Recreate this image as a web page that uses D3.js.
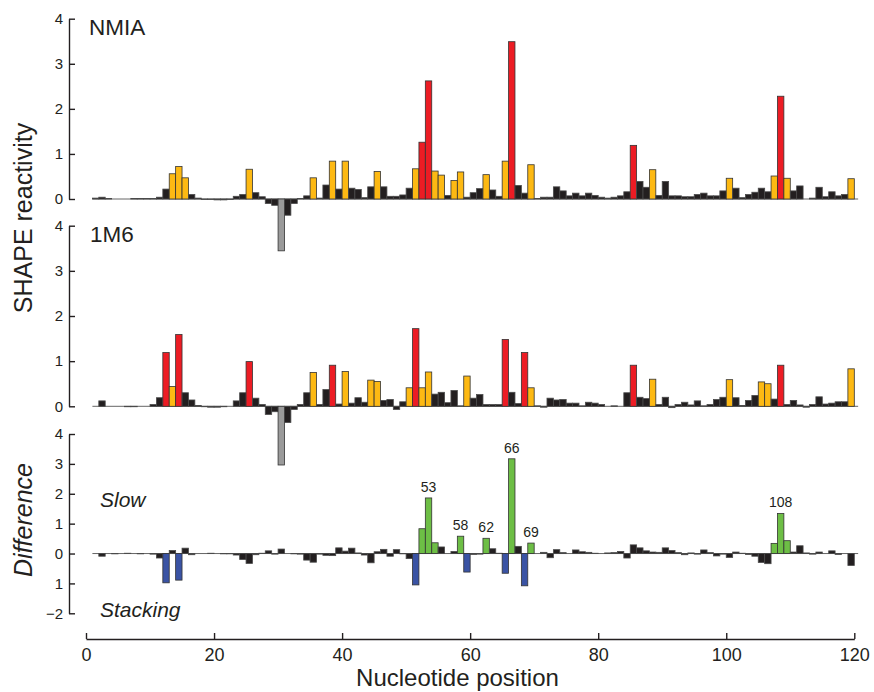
<!DOCTYPE html>
<html><head><meta charset="utf-8">
<script src="https://cdn.jsdelivr.net/npm/d3@7"></script>
<style>body{margin:0;background:#fff}svg{display:block}text{font-family:"Liberation Sans",Arial,sans-serif;fill:#231f20}</style>
</head><body>
<script>
// Nucleotide positions 1..119
const positions = d3.range(1, 120);
const nmia = [0.02,0.04,0.01,0.0,0.0,0.0,0.01,0.01,0.01,0.01,
0.04,0.22,0.56,0.72,0.47,0.1,0.02,-0.01,-0.01,-0.02,
-0.02,-0.01,0.06,0.1,0.66,0.14,0.05,-0.1,-0.14,-1.15,
-0.36,-0.1,0.01,0.07,0.47,0.02,0.31,0.84,0.22,0.84,
0.24,0.21,0.03,0.27,0.61,0.27,0.06,0.06,0.09,0.24,
0.67,1.26,2.62,0.62,0.53,0.08,0.41,0.6,0.04,0.14,
0.23,0.54,0.2,0.06,0.84,3.49,0.3,0.13,0.76,0.01,
0.04,0.04,0.27,0.18,0.07,0.13,0.07,0.13,0.08,0.04,
0.02,0.04,0.07,0.16,1.19,0.39,0.26,0.65,0.08,0.39,
0.07,0.07,0.05,0.05,0.1,0.13,0.07,0.07,0.18,0.46,
0.24,0.03,0.1,0.15,0.24,0.16,0.51,2.28,0.46,0.18,
0.29,0.0,0.02,0.26,0.05,0.16,0.07,0.1,0.45];
const m6 = [0.0,0.12,0.0,0.0,0.0,-0.01,-0.01,0.0,0.0,0.04,
0.19,1.19,0.44,1.59,0.3,0.14,0.02,-0.01,-0.02,-0.02,
-0.01,0.0,0.12,0.3,0.99,0.18,0.04,-0.18,-0.12,-1.3,
-0.36,-0.07,0.04,0.3,0.75,0.04,0.37,0.91,0.05,0.77,
0.07,0.19,0.09,0.58,0.55,0.13,0.15,-0.07,0.1,0.41,
1.72,0.41,0.76,0.27,0.31,0.08,0.35,0.01,0.67,0.18,
0.26,0.04,0.04,0.04,1.48,0.31,0.06,1.19,0.41,0.01,
-0.02,0.18,0.14,0.15,0.07,0.07,0.01,0.09,0.07,0.04,
0.0,0.01,0.0,0.3,0.91,0.2,0.17,0.6,0.04,0.2,
-0.03,0.04,0.09,0.03,0.12,0.01,0.04,0.15,0.2,0.59,
0.19,0.02,0.13,0.24,0.54,0.5,0.16,0.91,0.04,0.13,
0.03,-0.02,0.04,0.21,0.05,0.07,0.1,0.1,0.83];
const diff = [0.0,-0.09,0.0,-0.01,0.0,0.01,0.0,-0.01,0.0,-0.02,
-0.15,-0.98,0.1,-0.89,0.18,-0.04,0.0,0.0,0.01,0.0,
-0.01,-0.01,-0.05,-0.2,-0.33,-0.04,0.01,0.09,-0.02,0.15,
0.0,-0.01,-0.02,-0.22,-0.29,-0.02,-0.06,-0.07,0.19,0.08,
0.18,0.02,-0.05,-0.31,0.06,0.14,-0.09,0.13,-0.01,-0.17,
-1.05,0.83,1.86,0.36,0.22,0.0,0.07,0.58,-0.62,-0.03,
-0.02,0.51,0.16,0.01,-0.66,3.17,0.24,-1.08,0.35,0.0,
0.04,-0.14,0.13,0.03,0.0,0.12,0.06,0.04,0.01,0.0,
0.02,0.03,0.07,-0.15,0.29,0.19,0.09,0.05,0.04,0.19,
0.1,0.03,-0.04,0.02,-0.02,0.12,0.03,-0.08,-0.02,-0.13,
0.05,0.01,-0.03,-0.09,-0.3,-0.34,0.34,1.34,0.43,0.05,
0.26,0.02,-0.02,0.05,0.0,0.09,-0.03,0.0,-0.4];

// Highlight categories (nucleotide numbers)
const nmiaRed = [52,53,66,85,108];
const nmiaYellow = [13,14,15,25,35,38,40,45,51,54,55,57,58,62,65,69,88,100,107,109,119];
const m6Red = [12,14,25,38,51,65,68,85,108];
const m6Yellow = [13,35,40,44,45,50,52,53,59,69,88,100,105,106,119];
const grayPos = [30];
const diffGreen = [52,53,54,58,62,66,69,107,108,109];
const diffBlue = [12,14,51,59,65,68];
const diffLabels = [53,58,62,66,69,108];

const xTicks = [0,20,40,60,80,100,120];
const shapeTicks = [0,1,2,3,4];
const diffTicks = [-2,-1,0,1,2,3,4];
const diffTickLabels = ["\u22122","1","0","1","2","3","4"];

const W = 874, H = 692;
const svg = d3.select("body").append("svg").attr("width", W).attr("height", H);

const x = d3.scaleLinear().domain([0,120]).range([86,854.3]);
const yN = d3.scaleLinear().domain([0,4]).range([199,18.7]);
const yM = d3.scaleLinear().domain([0,4]).range([406.3,225.7]);
const yD = d3.scaleLinear().domain([-2,4]).range([613.3,434]);

const C = {black:"#231f20", red:"#ec1c24", yellow:"#fdb913", gray:"#9a9a9a", green:"#6dbe45", blue:"#3a53a4"};

function colorFn(red, yellow, gray, green, blue){
  return n => red.includes(n) ? C.red : yellow.includes(n) ? C.yellow : gray.includes(n) ? C.gray :
    green.includes(n) ? C.green : blue.includes(n) ? C.blue : C.black;
}

function panel(values, y, col){
  const g = svg.append("g");
  g.append("line").attr("x1", x(1)).attr("x2", x(120.6)).attr("y1", y(0)).attr("y2", y(0))
    .attr("stroke", "#555").attr("stroke-width", 0.9);
  g.selectAll("rect").data(positions).join("rect")
    .attr("x", n => x(n))
    .attr("width", n => x(n+1) - x(n))
    .attr("y", (n,i) => Math.min(y(values[i]), y(0)))
    .attr("height", (n,i) => Math.abs(y(values[i]) - y(0)))
    .attr("fill", n => col(n))
    .attr("stroke", n => col(n) === C.black ? "#4a4a4a" : "#333")
    .attr("stroke-width", 0.8);
  return g;
}

panel(nmia, yN, colorFn(nmiaRed, nmiaYellow, grayPos, [], []));
panel(m6, yM, colorFn(m6Red, m6Yellow, grayPos, [], []));
const gD = panel(diff, yD, colorFn([], [], [], diffGreen, diffBlue));

// difference labels
gD.selectAll("text.lab").data(diffLabels).join("text").attr("class","lab")
  .attr("x", n => x(n + 0.5))
  .attr("y", n => yD(diff[n-1]) - 6)
  .attr("text-anchor", "middle").attr("font-size", 14).text(n => n);

// y axes
function styleAxis(g){
  g.select(".domain").attr("stroke", C.black).attr("stroke-width", 1.4);
  g.selectAll(".tick line").attr("stroke", C.black).attr("stroke-width", 1.4);
  g.selectAll(".tick text").attr("font-size", 15).attr("fill", C.black)
    .style("font-family", '"Liberation Sans",Arial,sans-serif');
}
const ax1 = svg.append("g").attr("transform","translate(69,0)")
  .call(d3.axisLeft(yN).tickValues(shapeTicks).tickSizeInner(-6).tickSizeOuter(0).tickPadding(6).tickFormat(d3.format("d")));
styleAxis(ax1);
const ax2 = svg.append("g").attr("transform","translate(69,0)")
  .call(d3.axisLeft(yM).tickValues(shapeTicks).tickSizeInner(-6).tickSizeOuter(0).tickPadding(6).tickFormat(d3.format("d")));
styleAxis(ax2);
const ax3 = svg.append("g").attr("transform","translate(69,0)")
  .call(d3.axisLeft(yD).tickValues(diffTicks).tickSizeInner(-6).tickSizeOuter(0).tickPadding(6)
    .tickFormat(d => diffTickLabels[diffTicks.indexOf(d)]));
styleAxis(ax3);

// x axis
const axX = svg.append("g").attr("transform","translate(0,639)")
  .call(d3.axisBottom(x).tickValues(xTicks).tickSizeInner(-6).tickSizeOuter(0).tickPadding(9).tickFormat(d3.format("d")));
styleAxis(axX);
axX.selectAll(".tick text").attr("font-size", 18);

// texts
svg.append("text").attr("x", 89).attr("y", 35).attr("font-size", 22.5).text("NMIA");
svg.append("text").attr("x", 90).attr("y", 242).attr("font-size", 22.5).text("1M6");
svg.append("text").attr("transform","translate(32,218) rotate(-90)").attr("text-anchor","middle")
  .attr("font-size", 25).text("SHAPE reactivity");
svg.append("text").attr("transform","translate(32,520) rotate(-90)").attr("text-anchor","middle")
  .attr("font-size", 25).attr("font-style","italic").text("Difference");
svg.append("text").attr("x", 100).attr("y", 507).attr("font-size", 21).attr("font-style","italic").text("Slow");
svg.append("text").attr("x", 100).attr("y", 617).attr("font-size", 21).attr("font-style","italic").text("Stacking");
svg.append("text").attr("x", 457.5).attr("y", 686).attr("text-anchor","middle").attr("font-size", 24).text("Nucleotide position");
</script>
</body></html>
